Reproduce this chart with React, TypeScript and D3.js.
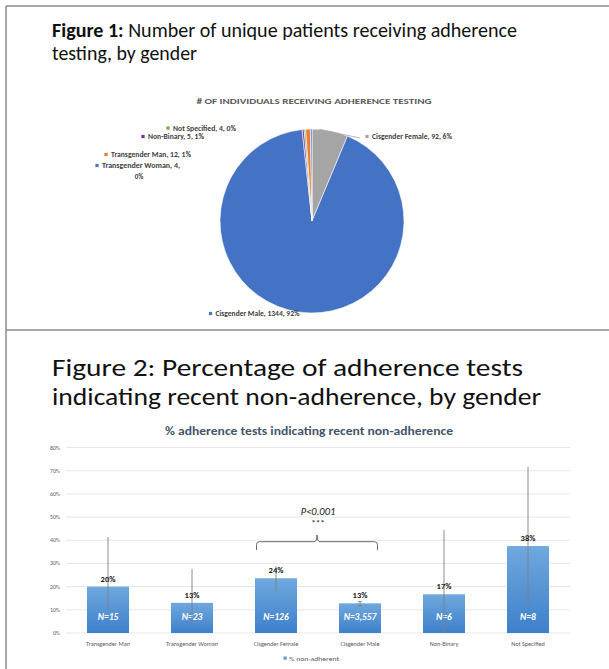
import React from "react";
import * as d3 from "d3";

// ---------- Figure 1 data ----------
const pieNames = ["Cisgender Female", "Cisgender Male", "Non-Binary", "Not Specified", "Transgender Man", "Transgender Woman"];
const pieCounts = [92, 1344, 5, 4, 12, 4];
const piePctLabels = [6, 92, 1, 0, 1, 0];
const pieColors = ["#A5A5A5", "#4472C4", "#7030A0", "#70AD47", "#ED7D31", "#4472C4"];

// ---------- Figure 2 data ----------
const barCategories = ["Transgender Man", "Transgender Woman", "Cisgender Female", "Cisgender Male", "Non-Binary", "Not Specified"];
const barValues = [0.2, 0.13, 0.236, 0.128, 0.167, 0.375];
const barLow = [0.092, 0.039, 0.178, 0.118, 0.0, 0.118];
const barHigh = [0.414, 0.276, 0.289, 0.136, 0.444, 0.717];
const barN = ["15", "23", "126", "3,557", "6", "8"];
const yTicks = [0, 0.1, 0.2, 0.3, 0.4, 0.5, 0.6, 0.7, 0.8];

const FONT = "Carlito, Calibri, Lato, 'Open Sans', sans-serif";

// label layout for the pie (Excel placed)
const pieLabelLayout: Record<string, { x: number; y: number; w: number; wrap?: boolean }> = {
  "Not Specified": { x: 168, y: 128, w: 63 },
  "Non-Binary": { x: 143, y: 136.5, w: 56 },
  "Transgender Man": { x: 106, y: 154.5, w: 80 },
  "Transgender Woman": { x: 97, y: 165.5, w: 78, wrap: true },
  "Cisgender Female": { x: 367, y: 136.5, w: 80 },
  "Cisgender Male": { x: 210.5, y: 313.5, w: 84 },
};

export default function App() {
  const W = 609;
  const H = 669;

  // pie
  const cx = 312, cy = 221, r = 92;
  const pieGen = d3.pie<number>().sort(null).value((d) => d).startAngle(0).endAngle(2 * Math.PI);
  const arcs = pieGen(pieCounts);
  const arcGen = d3.arc<d3.PieArcDatum<number>>().innerRadius(0).outerRadius(r);
  const gf = arcs[0];
  const gfMid = (gf.startAngle + gf.endAngle) / 2 - 0.12;
  const leaderStart = [cx + r * Math.sin(gfMid), cy - r * Math.cos(gfMid)];

  // bars
  const x = d3.scaleBand<string>().domain(barCategories).range([66, 570]).paddingInner(0.5).paddingOuter(0.25);
  const y = d3.scaleLinear().domain([0, 0.8]).range([633, 447.5]);
  const pct = d3.format(".0%");

  const cfX = (x("Cisgender Female") as number) + 1.5;
  const cmX = (x("Cisgender Male") as number) + x.bandwidth() - 3.5;
  const midX = (cfX + cmX) / 2;
  const bTop = 541.7, bBot = 550, nub = 535;
  const brace = `M${cfX},${bBot} L${cfX},${bTop + 3} Q${cfX},${bTop} ${cfX + 3},${bTop} L${midX - 3},${bTop} Q${midX},${bTop} ${midX},${nub} Q${midX},${bTop} ${midX + 3},${bTop} L${cmX - 3},${bTop} Q${cmX},${bTop} ${cmX},${bTop + 3} L${cmX},${bBot}`;

  return (
    <svg width={W} height={H} style={{ position: "absolute", left: 0, top: 0, background: "#fff" }} fontFamily={FONT}>
      <defs>
        <linearGradient id="barGrad" x1="0" y1="0" x2="0" y2="1">
          <stop offset="0" stopColor="#70A8DE" />
          <stop offset="1" stopColor="#3D80CB" />
        </linearGradient>
      </defs>
      <rect width={W} height={H} fill="#fff" />
      {/* panel borders */}
      <line x1={6} y1={6} x2={609} y2={6} stroke="#8a8a8a" strokeWidth={1.5} />
      <line x1={6} y1={6} x2={6} y2={669} stroke="#8a8a8a" strokeWidth={1.5} />
      <line x1={6} y1={330} x2={609} y2={330} stroke="#8a8a8a" strokeWidth={1.5} />

      {/* Figure 1 title */}
      <text x={52} y={37} fontSize={19.5} fill="#111" textLength={465} lengthAdjust="spacingAndGlyphs">
        <tspan fontWeight={600}>Figure 1:</tspan> Number of unique patients receiving adherence
      </text>
      <text x={52} y={60} fontSize={19.5} fill="#111" textLength={145} lengthAdjust="spacingAndGlyphs">
        testing, by gender
      </text>
      <text x={314} y={104} fontSize={8} fontWeight="bold" fill="#595959" textAnchor="middle" textLength={235} lengthAdjust="spacingAndGlyphs">
        # OF INDIVIDUALS RECEIVING ADHERENCE TESTING
      </text>

      {/* pie */}
      <g transform={`translate(${cx},${cy})`}>
        {arcs.map((a, i) => (
          <path key={i} d={arcGen(a) as string} fill={pieColors[i]} stroke="#fff" strokeWidth={0.6} />
        ))}
      </g>
      <polyline points={`${leaderStart[0]},${leaderStart[1]} 360,138`} fill="none" stroke="#a6a6a6" strokeWidth={0.8} />

      {pieNames.map((n, i) => {
        const L = pieLabelLayout[n];
        const label = `${n}, ${pieCounts[i]}, ${piePctLabels[i]}%`;
        return (
          <g key={n}>
            <rect x={L.x - 1.6} y={L.y - 1.6} width={3.2} height={3.2} fill={pieColors[i]} />
            {L.wrap ? (
              <>
                <text x={L.x + 5} y={L.y + 2.5} fontSize={7} fontWeight="bold" fill="#404040" textLength={L.w} lengthAdjust="spacingAndGlyphs">
                  {`${n}, ${pieCounts[i]},`}
                </text>
                <text x={L.x + 42} y={L.y + 13} fontSize={7} fontWeight="bold" fill="#404040" textAnchor="middle">
                  {`${piePctLabels[i]}%`}
                </text>
              </>
            ) : (
              <text x={L.x + 5} y={L.y + 2.5} fontSize={7} fontWeight="bold" fill="#404040" textLength={L.w} lengthAdjust="spacingAndGlyphs">
                {label}
              </text>
            )}
          </g>
        );
      })}

      {/* Figure 2 title */}
      <text x={52} y={376} fontSize={25.5} fill="#111" textLength={471} lengthAdjust="spacingAndGlyphs">
        Figure 2: Percentage of adherence tests
      </text>
      <text x={52} y={405} fontSize={25.5} fill="#111" textLength={489} lengthAdjust="spacingAndGlyphs">
        indicating recent non-adherence, by gender
      </text>
      <text x={309} y={435} fontSize={11} fontWeight="bold" fill="#44546A" textAnchor="middle" textLength={288} lengthAdjust="spacingAndGlyphs">
        % adherence tests indicating recent non-adherence
      </text>

      {/* grid + y axis */}
      {yTicks.map((t) => (
        <g key={t}>
          <line x1={66} x2={570} y1={y(t)} y2={y(t)} stroke="#e0e0e0" strokeWidth={0.8} />
          <text x={60} y={y(t) + 2} fontSize={5.8} fill="#595959" textAnchor="end">
            {pct(t)}
          </text>
        </g>
      ))}

      {/* bars */}
      {barCategories.map((c, i) => {
        const bx = x(c) as number;
        const cxm = bx + x.bandwidth() / 2;
        return (
          <g key={c}>
            <rect x={bx} y={y(barValues[i])} width={x.bandwidth()} height={y(0) - y(barValues[i])} fill="url(#barGrad)" />
            <text x={cxm} y={y(0) - 13.5} fontSize={9.5} fontWeight="bold" fontStyle="italic" fill="#fff" textAnchor="middle">
              {`N=${barN[i]}`}
            </text>
          </g>
        );
      })}
      {/* error bars */}
      {barCategories.map((c, i) => {
        const cxm = (x(c) as number) + x.bandwidth() / 2;
        const small = y(barLow[i]) - y(barHigh[i]) < 10;
        return (
          <g key={"e" + c} stroke="#808080" strokeWidth={0.9}>
            <line x1={cxm} x2={cxm} y1={y(barLow[i])} y2={y(barHigh[i])} />
            {small && (
              <>
                <line x1={cxm - 1.8} x2={cxm + 1.8} y1={y(barLow[i])} y2={y(barLow[i])} />
                <line x1={cxm - 1.8} x2={cxm + 1.8} y1={y(barHigh[i])} y2={y(barHigh[i])} />
              </>
            )}
          </g>
        );
      })}
      {/* value labels */}
      {barCategories.map((c, i) => {
        const cxm = (x(c) as number) + x.bandwidth() / 2;
        return (
          <text key={"v" + c} x={cxm} y={y(barValues[i]) - 5} fontSize={8.5} fontWeight="bold" fill="#1a1a1a" textAnchor="middle">
            {pct(barValues[i])}
          </text>
        );
      })}
      {/* x labels */}
      {barCategories.map((c) => (
        <text key={"x" + c} x={(x(c) as number) + x.bandwidth() / 2} y={645.5} fontSize={6.2} fill="#595959" textAnchor="middle">
          {c}
        </text>
      ))}

      {/* significance bracket */}
      <path d={brace} fill="none" stroke="#595959" strokeWidth={0.9} />
      <text x={318} y={514.5} fontSize={10.5} fontStyle="italic" fill="#1a1a1a" textAnchor="middle">
        P&lt;0.001
      </text>
      <text x={318} y={525.5} fontSize={9} fill="#1a1a1a" textAnchor="middle">
        ***
      </text>

      {/* legend */}
      <rect x={283.5} y={656.5} width={3.2} height={3.2} fill="#5B9BD5" />
      <text x={289} y={660.5} fontSize={5.8} fill="#595959" textLength={50} lengthAdjust="spacingAndGlyphs">
        % non-adherent
      </text>
    </svg>
  );
}
